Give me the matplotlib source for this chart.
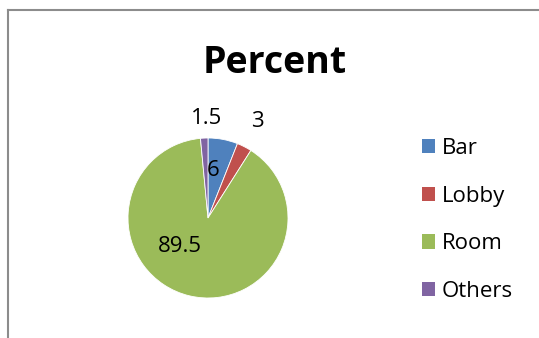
import numpy as np
import matplotlib
matplotlib.use("Agg")
import matplotlib.pyplot as plt
from matplotlib.patches import Patch

labels = ["Bar", "Lobby", "Room", "Others"]
values = [6, 3, 89.5, 1.5]
value_text = ["6", "3", "89.5", "1.5"]
colors = ["#4F81BD", "#C0504D", "#9BBB59", "#8064A2"]
# label placement: distance from centre (in radii) and angle nudge (deg)
label_dist = [0.6, 1.36, 0.5, 1.25]
label_nudge = [5, 0, -31, -2]

plt.rcParams["font.family"] = ["Open Sans", "DejaVu Sans"]

fig = plt.figure(figsize=(5.39, 3.38), dpi=100)
fig.patch.set_facecolor("white")

# chart border (only left and top visible in the reference)
fig.add_artist(plt.Line2D([8 / 539, 8 / 539], [0, 1 - 10 / 338], color="#8c8c8c", lw=1.5))
fig.add_artist(plt.Line2D([8 / 539, 1], [1 - 10 / 338, 1 - 10 / 338], color="#8c8c8c", lw=1.5))

ax = fig.add_axes([128 / 539, 40 / 338, 160 / 539, 160 / 338])
wedges, _ = ax.pie(values, colors=colors, startangle=90, counterclock=False,
                   wedgeprops=dict(linewidth=0.6, edgecolor="white"))
ax.set_aspect("equal")
ax.set_xlim(-1, 1)
ax.set_ylim(-1, 1)

for w, txt, d, nudge in zip(wedges, value_text, label_dist, label_nudge):
    ang = np.deg2rad((w.theta1 + w.theta2) / 2 + nudge)
    ax.text(d * np.cos(ang), d * np.sin(ang), txt, ha="center", va="center",
            fontsize=16, color="black", clip_on=False)

fig.text(275 / 539, 1 - 63 / 338, "Percent", ha="center", va="center",
         fontsize=27, fontweight="bold")

handles = [Patch(facecolor=c, edgecolor="none") for c in colors]
fig.legend(handles, labels, loc="center left", bbox_to_anchor=(402 / 539, 1 - 220 / 338),
           frameon=False, fontsize=16, handlelength=0.6, handleheight=0.6,
           handletextpad=0.3, labelspacing=1.2)

fig.savefig("out.png", dpi=100, facecolor="white")
